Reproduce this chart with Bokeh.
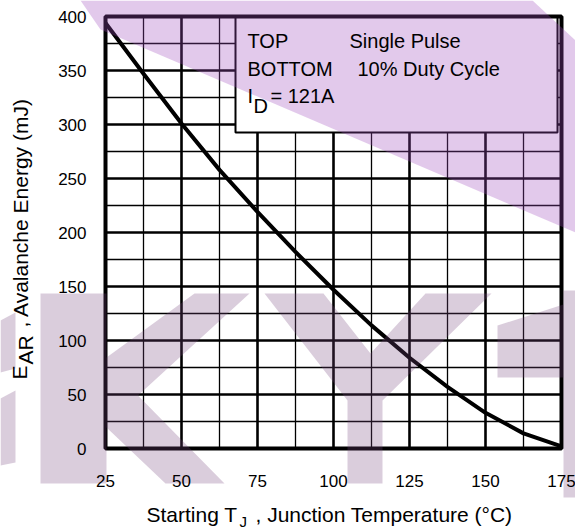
import math
from bokeh.plotting import figure
from bokeh.models import Range1d
from bokeh.core.properties import value
from bokeh.embed import file_html
from bokeh.resources import INLINE

# ---------------- data ----------------
temps = [25, 37.5, 50, 62.5, 75, 87.5, 100, 112.5, 125, 137.5, 150, 162.5, 175]
energy = [394, 347, 301, 258, 219, 182, 147, 114, 84, 57, 33, 14, 2]

x_ticks = [25, 50, 75, 100, 125, 150, 175]
x_minor = [37.5, 62.5, 87.5, 112.5, 137.5, 162.5]
y_ticks = [0, 50, 100, 150, 200, 250, 300, 350, 400]
y_minor = [25, 75, 125, 175, 225, 275, 325, 375]
x_tick_labels = ["25", "50", "75", "100", "125", "150", "175"]
y_tick_labels = ["0", "50", "100", "150", "200", "250", "300", "350", "400"]

legend_rows = [("TOP", "Single Pulse"), ("BOTTOM", "10% Duty Cycle")]
current_text = ("I", "D", "= 121A")
x_title = ("Starting T", "J", ", Junction Temperature (°C)")
y_title = ("E", "AR", ", Avalanche Energy (mJ)")

X_MIN, X_MAX = 25, 175
Y_MIN, Y_MAX = 0, 400

# ---------------- layout (pixels) ----------------
W, H = 575, 529
L, R, T, B = 105, 561, 16, 448
FONT = "Liberation Sans"


def dx(px):
    return X_MIN + (px - L) * (X_MAX - X_MIN) / (R - L)


def dy(py):
    return Y_MIN + (B - py) * (Y_MAX - Y_MIN) / (B - T)


p = figure(width=W, height=H, output_backend="svg", toolbar_location=None,
           x_range=Range1d(dx(0), dx(W)), y_range=Range1d(dy(H), dy(0)),
           x_axis_location=None, y_axis_location=None, min_border=0)
p.grid.visible = False
p.outline_line_color = None
p.background_fill_color = "white"
p.border_fill_color = "white"

# grid
p.segment(x0=x_minor, y0=[Y_MIN] * len(x_minor), x1=x_minor, y1=[Y_MAX] * len(x_minor),
          line_color="black", line_width=1.3)
p.segment(x0=X_MIN, y0=y_minor, x1=X_MAX, y1=y_minor, line_color="black", line_width=1.3)
p.segment(x0=x_ticks, y0=[Y_MIN] * len(x_ticks), x1=x_ticks, y1=[Y_MAX] * len(x_ticks),
          line_color="black", line_width=2.6)
p.segment(x0=X_MIN, y0=y_ticks, x1=X_MAX, y1=y_ticks, line_color="black", line_width=2.6)

# legend box
p.quad(left=[dx(235)], right=[dx(557)], bottom=[dy(132)], top=[Y_MAX],
       fill_color="white", line_color="black", line_width=2)

# plot frame
p.quad(left=[X_MIN], right=[X_MAX], bottom=[Y_MIN], top=[Y_MAX],
       fill_color=None, line_color="black", line_width=4)

# curve
p.line(temps, energy, line_color="black", line_width=4, line_join="round")

# ---------------- watermark ----------------
band_color = "#9e4bbc"
gray_color = "#76487e"
band = [[(80, 0), (100, 29), (575, 232), (575, 40), (532, 0)]]
letters = [
    [(40, 293), (106, 293), (106, 357), (194, 293), (249, 293), (137.5, 395),
     (224, 483), (165, 483), (106, 427), (106, 483), (40, 483)],
    [(264, 293), (323, 293), (370, 353), (425, 293), (491, 293), (382, 400),
     (382, 483), (347, 483), (347, 400)],
    [(497, 325), (563, 304), (563, 377), (497, 377)],
    [(563, 290), (575, 290), (575, 497), (563, 497)],
    [(0, 320), (15, 312), (15, 368), (0, 372)],
    [(0, 398), (15, 390), (15, 462), (0, 465)],
]
p.patches(xs=[[dx(a) for a, b in s] for s in band], ys=[[dy(b) for a, b in s] for s in band],
          fill_color=band_color, fill_alpha=0.3, line_color=None)
p.patches(xs=[[dx(a) for a, b in s] for s in letters], ys=[[dy(b) for a, b in s] for s in letters],
          fill_color=gray_color, fill_alpha=0.27, line_color=None)

# ---------------- texts ----------------
def txt(texts, xs, ys, size, align="left", angle=0.0):
    p.text(x=xs, y=ys, text=texts, text_font=value(FONT), text_font_size=f"{size}px",
           text_color="black", text_align=align, text_baseline="middle", angle=angle)

# tick labels
txt(x_tick_labels, x_ticks, [dy(480)] * len(x_ticks), 17, align="center")
txt(y_tick_labels, [dx(86)] * len(y_ticks), y_ticks, 17, align="right")

# legend text
txt([legend_rows[0][0], legend_rows[1][0]], [dx(247), dx(247)], [dy(40), dy(68)], 20)
txt([legend_rows[0][1]], [dx(349)], [dy(40)], 20)
txt([legend_rows[1][1]], [dx(357)], [dy(68)], 20)
txt([current_text[0]], [dx(247)], [dy(95)], 20)
txt([current_text[1]], [dx(253)], [dy(105)], 20)
txt([current_text[2]], [dx(270)], [dy(95)], 20)

# x axis title
txt([x_title[0]], [dx(146)], [dy(514)], 21)
txt([x_title[1]], [dx(239)], [dy(521)], 15)
txt([x_title[2]], [dx(255)], [dy(514)], 21)

# y axis title (rotated)
rot = math.pi / 2
txt([y_title[0]], [dx(18.5)], [dy(379)], 21, angle=rot)
txt([y_title[1]], [dx(24.5)], [dy(364)], 21, angle=rot)
txt([y_title[2]], [dx(19.5)], [dy(327)], 21, angle=rot)

open("out.html", "w").write(file_html(p, INLINE))
